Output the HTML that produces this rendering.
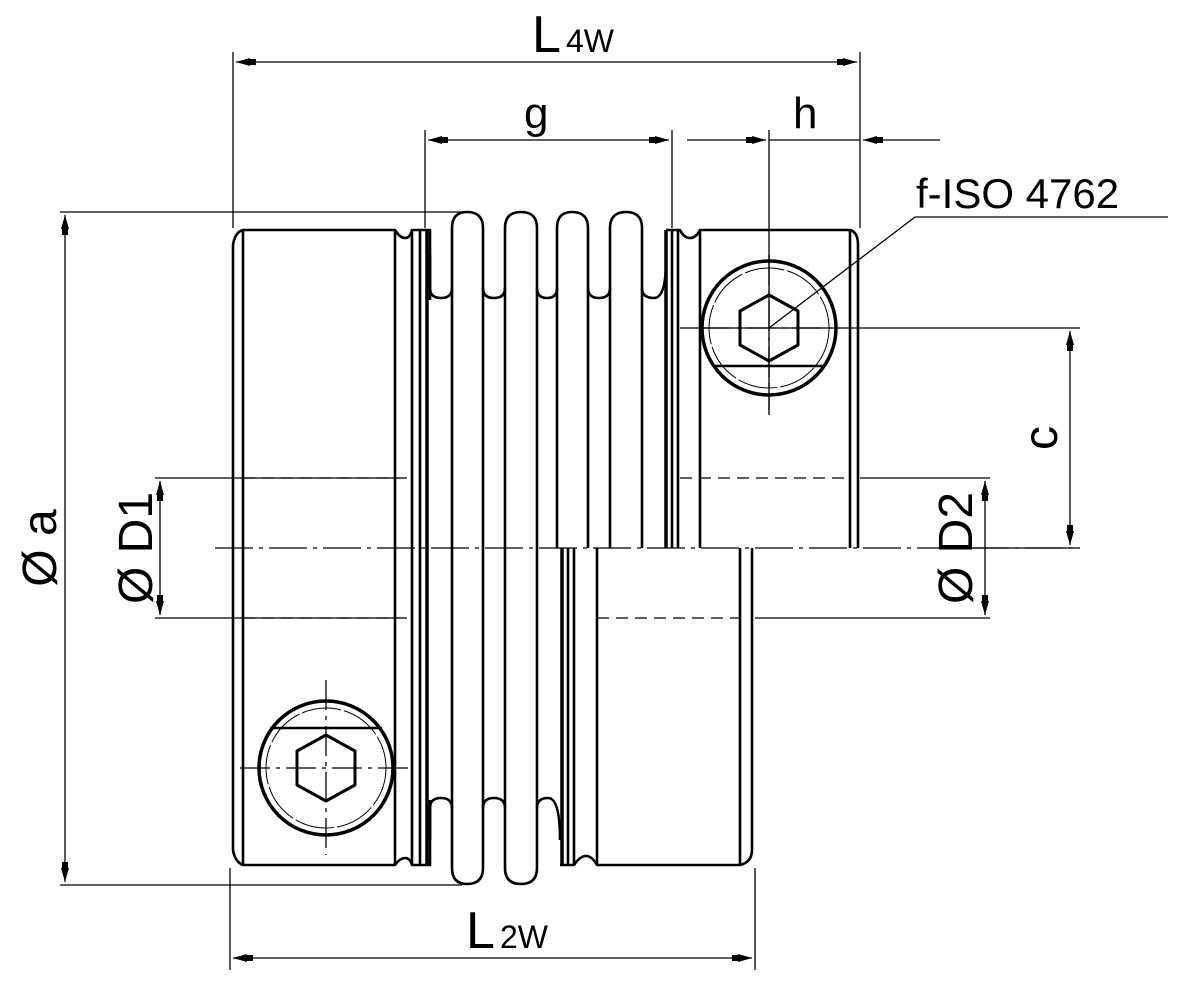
<!DOCTYPE html>
<html><head><meta charset="utf-8"><style>html,body{margin:0;padding:0;background:#fff}svg{display:block}</style></head>
<body>
<svg width="1181" height="992" viewBox="0 0 1181 992" xmlns="http://www.w3.org/2000/svg" font-family="Liberation Sans, sans-serif">
<defs>
<marker id="a" viewBox="0 0 20 8" refX="20" refY="4" markerWidth="20" markerHeight="8" markerUnits="userSpaceOnUse" orient="auto-start-reverse"><path d="M0,1 L6,1 L6,0 L20,4 L6,8 L6,7 L0,7 Z" fill="#000"/></marker>
</defs>
<g stroke="#000" fill="none">
<g stroke-width="1.3">
<line x1="233" y1="52" x2="233" y2="228"/>
<line x1="860" y1="52" x2="860" y2="228"/>
<line x1="425" y1="130" x2="425" y2="228"/>
<line x1="672" y1="130" x2="672" y2="228"/>
<line x1="769" y1="130" x2="769" y2="415"/>
<line x1="60" y1="212" x2="462" y2="212"/>
<line x1="60" y1="885" x2="462" y2="885"/>
<line x1="230" y1="868" x2="230" y2="970"/>
<line x1="755" y1="868" x2="755" y2="970"/>
<line x1="155" y1="478" x2="400" y2="478"/>
<line x1="155" y1="618" x2="400" y2="618"/>
<line x1="680" y1="328" x2="1080" y2="328"/>
<line x1="940" y1="548" x2="1080" y2="548"/>
<line x1="860" y1="478" x2="990" y2="478"/>
<line x1="755" y1="618" x2="990" y2="618"/>
<line x1="236" y1="62" x2="857" y2="62" marker-start="url(#a)" marker-end="url(#a)"/>
<line x1="428" y1="140" x2="669" y2="140" marker-start="url(#a)" marker-end="url(#a)"/>
<line x1="687" y1="140" x2="766" y2="140" marker-end="url(#a)"/>
<line x1="769" y1="140" x2="860" y2="140"/>
<line x1="940" y1="140" x2="863" y2="140" marker-end="url(#a)"/>
<line x1="65" y1="215" x2="65" y2="882" marker-start="url(#a)" marker-end="url(#a)"/>
<line x1="160" y1="481" x2="160" y2="615" marker-start="url(#a)" marker-end="url(#a)"/>
<line x1="985" y1="481" x2="985" y2="615" marker-start="url(#a)" marker-end="url(#a)"/>
<line x1="1070" y1="331" x2="1070" y2="545" marker-start="url(#a)" marker-end="url(#a)"/>
<line x1="233" y1="958" x2="752" y2="958" marker-start="url(#a)" marker-end="url(#a)"/>
<line x1="769" y1="328" x2="915" y2="217"/>
<line x1="915" y1="217" x2="1168" y2="217"/>
<line x1="215" y1="548" x2="1080" y2="548" stroke-dasharray="38,6,4,6"/>
<line x1="243" y1="478" x2="412" y2="478" stroke-dasharray="12,7"/>
<line x1="243" y1="618" x2="412" y2="618" stroke-dasharray="12,7"/>
<line x1="680" y1="478" x2="850" y2="478" stroke-dasharray="12,7"/>
<line x1="597" y1="618" x2="740" y2="618" stroke-dasharray="12,7"/>
<line x1="240" y1="768" x2="412" y2="768" stroke-dasharray="30,6,4,6"/>
<line x1="326" y1="680" x2="326" y2="855" stroke-dasharray="30,6,4,6"/>
<circle cx="769" cy="328" r="60" stroke-width="1" stroke-dasharray="40,3"/>
<circle cx="326" cy="768" r="60" stroke-width="1" stroke-dasharray="40,3"/>
</g>
<g stroke-width="2.6" stroke-linejoin="round">
<path d="M233,245 Q235,232 243,230 L395,230 Q400,238 405,238 Q410,238 412,230 L430,230 L430,300"/>
<path d="M233,245 L233,850 Q235,862 243,865 L395,865 Q400,858 405,858 Q410,858 412,865 L430,865 L430,800"/>
<line x1="243" y1="230" x2="243" y2="865"/>
<line x1="395" y1="230" x2="395" y2="865"/>
<line x1="412" y1="230" x2="412" y2="865"/>
<line x1="420" y1="230" x2="420" y2="865"/>
<line x1="427" y1="230" x2="427" y2="865" stroke-width="3.5"/>
<!-- upper bellows -->
<path d="M430,255 L430,288 Q430,298 441,298 Q452,298 452,288 L452,228 Q452,212 467,212 Q483,212 483,228 L483,288 Q483,298 494,298 Q505,298 505,288 L505,228 Q505,212 521,212 Q537,212 537,228 L537,288 Q537,298 547,298 Q557,298 557,288 L557,228 Q557,212 572,212 Q588,212 588,228 L588,288 Q588,298 599,298 Q610,298 610,288 L610,228 Q610,212 626,212 Q642,212 642,228 L642,288 Q642,298 654,298 Q666,298 666,260"/>
<line x1="452" y1="288" x2="452" y2="808"/>
<line x1="483" y1="288" x2="483" y2="808"/>
<line x1="505" y1="288" x2="505" y2="808"/>
<line x1="537" y1="288" x2="537" y2="808"/>
<line x1="557" y1="288" x2="557" y2="548"/>
<line x1="588" y1="288" x2="588" y2="548"/>
<line x1="610" y1="288" x2="610" y2="548"/>
<line x1="642" y1="288" x2="642" y2="548"/>
<!-- lower bellows -->
<path d="M430,840 L430,808 Q430,798 441,798 Q452,798 452,808 L452,868 Q452,884 467,884 Q483,884 483,868 L483,808 Q483,798 494,798 Q505,798 505,808 L505,868 Q505,884 521,884 Q537,884 537,868 L537,808 Q537,798 548,798 Q560,798 560,840"/>
<!-- upper right hub -->
<path d="M666,230 L680,230 Q684,238 690,238 Q696,238 700,230 L850,230 Q858,232 858,245 L858,548"/>
<line x1="666" y1="230" x2="666" y2="548" stroke-width="3.5"/>
<line x1="672" y1="230" x2="672" y2="548"/>
<line x1="678" y1="230" x2="678" y2="548"/>
<line x1="700" y1="230" x2="700" y2="548"/>
<line x1="850" y1="230" x2="850" y2="548"/>
<!-- lower right hub -->
<line x1="562" y1="548" x2="562" y2="865" stroke-width="3.5"/>
<line x1="568" y1="548" x2="568" y2="865"/>
<line x1="574" y1="548" x2="574" y2="865"/>
<line x1="597" y1="548" x2="597" y2="865"/>
<line x1="740" y1="548" x2="740" y2="865"/>
<path d="M560,865 L574,865 Q580,856 586,856 Q592,856 597,865 L740,865 Q752,862 752,850 L752,548"/>
<!-- screws -->
<circle cx="769" cy="328" r="67" stroke-width="3.5"/>
<line x1="713" y1="366" x2="825" y2="366"/>
<polygon points="769,295 798,311 798,345 769,361 740,345 740,311" stroke-width="3"/>
<circle cx="326" cy="768" r="67" stroke-width="3.5"/>
<line x1="270" y1="728" x2="382" y2="728"/>
<polygon points="326,735 355,751 355,785 326,801 297,785 297,751" stroke-width="3"/>
</g>
<g stroke-width="1.3">
<line x1="700" y1="328" x2="840" y2="328" stroke-dasharray="30,6,4,6"/>
<line x1="769" y1="255" x2="769" y2="410" stroke-dasharray="30,6,4,6"/>
</g>
</g>
<g fill="#000">
<text x="532" y="52" font-size="52">L</text><text x="566" y="52" font-size="32">4W</text>
<text x="524" y="128" font-size="44">g</text>
<text x="793" y="128" font-size="44">h</text>
<text x="916" y="208" font-size="42">f-ISO 4762</text>
<text x="466" y="948" font-size="52">L</text><text x="500" y="948" font-size="32">2W</text>
<text transform="translate(56,548) rotate(-90)" font-size="48" text-anchor="middle">Ø a</text>
<text transform="translate(152,548) rotate(-90)" font-size="48" text-anchor="middle">Ø D1</text>
<text transform="translate(972,548) rotate(-90)" font-size="48" text-anchor="middle">Ø D2</text>
<text transform="translate(1057,438) rotate(-90)" font-size="48" text-anchor="middle">c</text>
</g>
</svg>
</body></html>
